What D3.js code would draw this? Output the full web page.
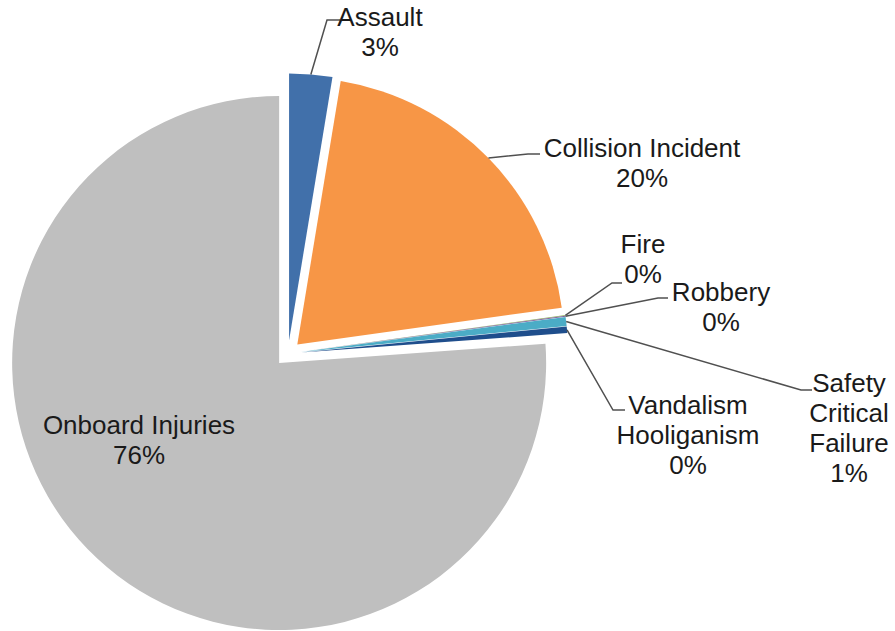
<!DOCTYPE html>
<html>
<head>
<meta charset="utf-8">
<script src="https://cdn.jsdelivr.net/npm/d3@7"></script>
<style>
  html, body { margin: 0; padding: 0; background: #ffffff; }
  svg { display: block; }
  text { font-family: "Liberation Sans", Arial, sans-serif; }
</style>
</head>
<body>
<svg id="chart" width="895" height="631"></svg>
<script>
// Incident categories, in clockwise order starting at 12 o'clock
const categories = [
  "Assault", "Collision Incident", "Fire", "Robbery",
  "Safety Critical Failure", "Vandalism Hooliganism", "Onboard Injuries"
];
// Share of incidents per category (percent)
const shares = [2.6, 20.2, 0.05, 0.05, 0.55, 0.4, 76.15];
// Label text lines for each category
const labelLines = [
  ["Assault"], ["Collision Incident"], ["Fire"], ["Robbery"],
  ["Safety", "Critical", "Failure"], ["Vandalism", "Hooliganism"], ["Onboard Injuries"]
];
const colors = ["#4170AA", "#F79646", "#8FB15A", "#7D63A0", "#4BACC6", "#1F4E8C", "#BFBFBF"];

// Label placement: centre x, first baseline, optional leader elbow and tail end
const labelLayout = [
  { x: 380, y: 26,  elbow: [327, 20],  tail: 340 },
  { x: 642, y: 157, elbow: [528, 154], tail: 540 },
  { x: 643, y: 253, elbow: [612, 283], tail: 622 },
  { x: 721, y: 301, elbow: [658, 298], tail: 668 },
  { x: 849, y: 392, elbow: [801, 390], tail: 812 },
  { x: 688, y: 414, elbow: [613, 410], tail: 625 },
  { x: 139, y: 434, elbow: null,       tail: null }
];
const lineHeight = 30;

const cx = 288, cy = 353.5, radius = 267, explode = 13;

const svg = d3.select("#chart");
const color = d3.scaleOrdinal().domain(categories).range(colors);

const data = categories.map((c, i) => ({ category: c, value: shares[i], lines: labelLines[i], layout: labelLayout[i] }));

const pie = d3.pie().value(d => d.value).sort(null).startAngle(0).endAngle(2 * Math.PI);
const arcs = pie(data);
const arc = d3.arc().innerRadius(0).outerRadius(radius);

const mid = a => (a.startAngle + a.endAngle) / 2;
const offset = (a, r) => [Math.sin(mid(a)) * r, -Math.cos(mid(a)) * r];

const g = svg.append("g").attr("transform", `translate(${cx},${cy})`);

g.selectAll("path.slice")
  .data(arcs)
  .enter().append("path")
  .attr("class", "slice")
  .attr("d", arc)
  .attr("fill", d => color(d.data.category))
  .attr("transform", d => { const [dx, dy] = offset(d, explode); return `translate(${dx},${dy})`; });

// Leader lines from the outer edge of each slice to its label
const leaders = arcs.filter(d => d.data.layout.elbow);
svg.selectAll("path.leader")
  .data(leaders)
  .enter().append("path")
  .attr("class", "leader")
  .attr("fill", "none")
  .attr("stroke", "#505050")
  .attr("stroke-width", 1.5)
  .attr("d", d => {
    const [sx, sy] = offset(d, radius + explode);
    const L = d.data.layout;
    return d3.line()([[cx + sx, cy + sy], L.elbow, [L.tail, L.elbow[1]]]);
  });

// Labels: category name lines followed by the rounded percentage
const labels = svg.selectAll("text.label")
  .data(arcs)
  .enter().append("text")
  .attr("class", "label")
  .attr("text-anchor", "middle")
  .attr("font-size", 26)
  .attr("fill", "#1a1a1a");

labels.each(function (d) {
  const t = d3.select(this);
  const L = d.data.layout;
  const lines = d.data.lines.concat([Math.round(d.data.value) + "%"]);
  lines.forEach((s, i) => {
    t.append("tspan").attr("x", L.x).attr("y", L.y + i * lineHeight).text(s);
  });
});
</script>
</body>
</html>
